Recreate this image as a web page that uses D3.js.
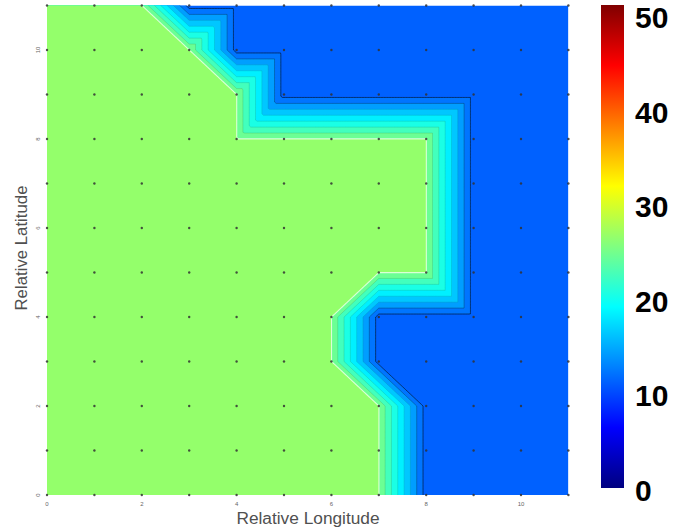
<!DOCTYPE html>
<html><head><meta charset="utf-8">
<script src="https://cdn.jsdelivr.net/npm/d3@7"></script>
<style>body{margin:0;background:#fff;overflow:hidden}</style>
</head><body><svg id="c" width="674" height="531"></svg>
<script>
// ---------- data ----------
const gridLon = [0,1,2,3,4,5,6,7,8,9,10,11];
const gridLat = [0,1,2,3,4,5,6,7,8,9,10,11];
const lonTicks = [0,2,4,6,8,10];
const latTicks = [0,2,4,6,8,10];
// value rows, one per latitude (0 = bottom), columns = longitude 0..11
const lat0  = [26,26,26,26,26,26,26,26,11,11,11,11];
const lat1  = [26,26,26,26,26,26,26,26,11,11,11,11];
const lat2  = [26,26,26,26,26,26,26,26,11,11,11,11];
const lat3  = [26,26,26,26,26,26,26,11,11,11,11,11];
const lat4  = [26,26,26,26,26,26,26,11,11,11,11,11];
const lat5  = [26,26,26,26,26,26,26,26,26,11,11,11];
const lat6  = [26,26,26,26,26,26,26,26,26,11,11,11];
const lat7  = [26,26,26,26,26,26,26,26,26,11,11,11];
const lat8  = [26,26,26,26,26,26,26,26,26,11,11,11];
const lat9  = [26,26,26,26,26,11,11,11,11,11,11,11];
const lat10 = [26,26,26,26,11,11,11,11,11,11,11,11];
const lat11 = [26,26,26,11,11,11,11,11,11,11,11,11];
const values = [lat0,lat1,lat2,lat3,lat4,lat5,lat6,lat7,lat8,lat9,lat10,lat11];
const contourLevels = [12,14,16,18,20,22,24,26];
const colorbarTicks = [0,10,20,30,40,50];
const colorDomain = [0,50];
// mesh cells (lon,lat of lower-left corner) triangulated along the "\" diagonal
const flippedCells = [[6,2],[7,2],[8,4],[3,9],[2,10]];

// ---------- helpers ----------
const clamp01 = v => Math.max(0, Math.min(1, v));
function jet(t){
  return d3.rgb(255*clamp01(1.5-Math.abs(4*t-3)), 255*clamp01(1.5-Math.abs(4*t-2)), 255*clamp01(1.5-Math.abs(4*t-1))).formatHex();
}
const cnorm = d3.scaleLinear(colorDomain,[0,1]);
const flipSet = new Set(flippedCells.map(d=>d[0]+","+d[1]));
const nI = gridLon.length-1, nJ = gridLat.length-1;
const vMax = d3.max(values.flat()), vMin = d3.min(values.flat());
function field(u,v){
  u = Math.max(0, Math.min(nI, u)); v = Math.max(0, Math.min(nJ, v));
  const i = Math.min(Math.floor(u), nI-1), j = Math.min(Math.floor(v), nJ-1);
  const fx = u-i, fy = v-j;
  const a = values[j][i], b = values[j][i+1], c = values[j+1][i], d = values[j+1][i+1];
  if (flipSet.has(i+","+j)) {
    if (fx+fy <= 1) return a + fx*(b-a) + fy*(c-a);
    return d + (1-fx)*(c-d) + (1-fy)*(b-d);
  }
  if (fx >= fy) return a + fx*(b-a) + fy*(d-b);
  return a + fy*(c-a) + fx*(d-c);
}

// ---------- layout ----------
const svg = d3.select("#c");
const x = d3.scaleLinear([0,11],[47,568.4]);
const y = d3.scaleLinear([0,11],[495,5.5]);

svg.append("defs").append("clipPath").attr("id","plotclip")
  .append("rect").attr("x",x(0)).attr("y",y(11)).attr("width",x(11)-x(0)).attr("height",y(0)-y(11));

// sample field
const res = 30, u0 = -0.3, span = 11.6;
const n = Math.ceil(span*res)+1;
const grid = new Float64Array(n*n);
for (let r=0;r<n;r++) for (let k=0;k<n;k++) grid[r*n+k] = field(u0+k/res, u0+r/res);
// a level equal to the field maximum is traced just inside it to avoid degenerate steps
const contourGen = d3.contours().size([n,n]);
const contours = contourLevels.map(L => {
  const g = contourGen.contour(grid, Math.min(L, vMax - 0.04));
  g.level = L; return g;
});
const path = d3.geoPath(d3.geoTransform({
  point(px,py){ this.stream.point(x(u0+(px-0.5)/res), y(u0+(py-0.5)/res)); }
}));

const plot = svg.append("g").attr("clip-path","url(#plotclip)");
plot.append("rect").attr("x",x(0)).attr("y",y(11)).attr("width",x(11)-x(0)).attr("height",y(0)-y(11))
  .attr("fill", jet(cnorm(vMin)));
plot.selectAll("path.band").data(contours).join("path").attr("class","band")
  .attr("d",path).attr("fill",d=>jet(cnorm(d.level))).attr("stroke",d=>jet(cnorm(d.level))).attr("stroke-width",0.3);
plot.selectAll("path.line").data(contours).join("path").attr("class","line")
  .attr("d",path).attr("fill","none")
  .attr("stroke",d=> d.level===26 ? "#ffffff" : "#000000")
  .attr("stroke-opacity",d=> d.level===26 ? 0.7 : d.level===12 ? 0.6 : d.level===14 ? 0.3 : 0.12)
  .attr("stroke-width",d=> d.level===26 ? 1.1 : 0.9);

// grid dots
const pts = gridLat.flatMap(la => gridLon.map(lo => [lo,la]));
svg.append("g").selectAll("circle").data(pts).join("circle")
  .attr("cx",d=>x(d[0])).attr("cy",d=>y(d[1])).attr("r",1.2).attr("fill","#333").attr("fill-opacity",0.85);

// tick labels
svg.append("g").selectAll("text").data(lonTicks).join("text")
  .attr("x",d=>x(d)).attr("y",506).attr("text-anchor","middle")
  .attr("font-family","Liberation Sans, Arial").attr("font-size",6).attr("fill","#666").text(d=>d);
svg.append("g").selectAll("text").data(latTicks).join("text")
  .attr("transform",d=>`translate(40,${y(d)}) rotate(-90)`).attr("text-anchor","middle")
  .attr("font-family","Liberation Sans, Arial").attr("font-size",6).attr("fill","#666").text(d=>d);

// axis titles
svg.append("text").attr("x",308).attr("y",524).attr("text-anchor","middle")
  .attr("font-family","Liberation Sans, Arial").attr("font-size",17.3).attr("fill","#505050").text("Relative Longitude");
svg.append("text").attr("transform","translate(27,248) rotate(-90)").attr("text-anchor","middle")
  .attr("font-family","Liberation Sans, Arial").attr("font-size",16.8).attr("fill","#505050").text("Relative Latitude");

// colorbar
const cb = d3.scaleLinear(colorDomain,[488,5]);
const grad = svg.select("defs").append("linearGradient").attr("id","jetgrad")
  .attr("x1",0).attr("y1",1).attr("x2",0).attr("y2",0);
d3.range(0,1.0001,0.0625).forEach(t => grad.append("stop").attr("offset",t).attr("stop-color",jet(t)));
svg.append("rect").attr("x",601).attr("y",cb(50)).attr("width",23).attr("height",cb(0)-cb(50)).attr("fill","url(#jetgrad)");
const cbl = d3.scaleLinear(colorDomain,[490,17.5]);
svg.append("g").selectAll("text").data(colorbarTicks).join("text")
  .attr("x",635).attr("y",d=>cbl(d)).attr("dy","0.36em")
  .attr("font-family","Liberation Sans, Arial").attr("font-weight","bold").attr("font-size",30).attr("fill","#000").text(d=>d);
</script></body></html>
